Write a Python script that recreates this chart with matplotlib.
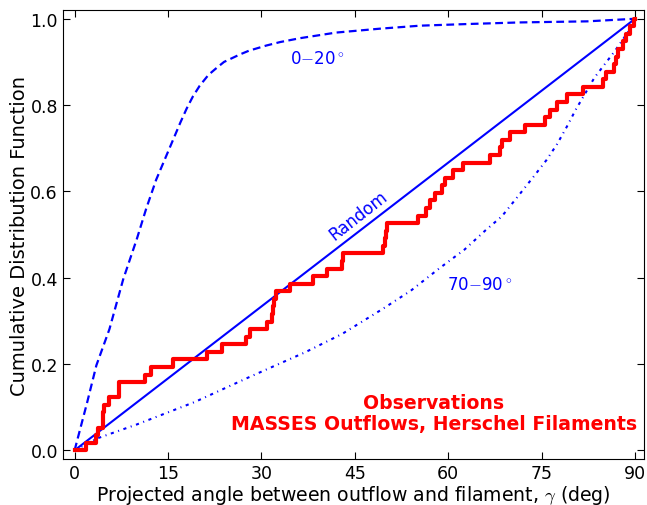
import numpy as np
import matplotlib
matplotlib.use('Agg')
import matplotlib.pyplot as plt

plt.rcParams['mathtext.fontset'] = 'cm'

angles = [1.9, 3.5, 3.8, 4.55, 4.6, 4.8, 5.6, 7.2, 7.2, 11.25,
          12.3, 15.8, 21.3, 23.6, 27.5, 28.1, 30.9, 31.7, 31.8, 32.0,
          32.4, 34.6, 38.3, 40.5, 43.0, 43.1, 49.6, 49.8, 50.0, 50.2,
          55.2, 56.5, 57.0, 57.9, 58.95, 59.5, 60.8, 62.4, 66.7, 68.3,
          68.6, 69.9, 72.3, 75.6, 76.4, 77.4, 79.0, 81.6, 84.9, 85.4,
          86.6, 86.9, 87.3, 88.0, 88.6, 89.2, 89.8]

# model curves
x_020 = [0, 2, 3.5, 5.6, 7.8, 10, 11.5, 13.1, 15.8, 17, 18.0, 19, 20.1,
         21.5, 22.8, 24, 26.5, 28, 30.8, 33, 36.2, 42, 49, 55.5, 63.5,
         71.5, 82.3, 90]
y_020 = [0, 0.11, 0.197, 0.281, 0.396, 0.49, 0.56, 0.627, 0.719, 0.76,
         0.792, 0.82, 0.845, 0.87, 0.886, 0.9, 0.917, 0.926, 0.938, 0.946,
         0.955, 0.968, 0.977, 0.984, 0.988, 0.9915, 0.994, 1.0]

x_7090 = [0, 3.7, 10, 19.3, 28.1, 37, 43, 49.4, 54, 58.6, 62.6, 66, 68.6, 71,
          73.7, 75.8, 77.5, 79.05, 80.5, 83.5, 86.8, 89, 90]
y_7090 = [0, 0.028, 0.06, 0.112, 0.17, 0.227, 0.27, 0.327, 0.37, 0.422, 0.465,
          0.51, 0.542, 0.585, 0.634, 0.673, 0.71, 0.75, 0.79, 0.864, 0.926,
          0.972, 1.0]

x_rand = [0, 90]
y_rand = [0, 1]

fig = plt.figure(figsize=(6.47, 5.06), dpi=100)
ax = fig.add_axes([0.097, 0.091, 0.898, 0.887])

# ECDF
a = np.sort(angles)
n = len(a)
xs = np.concatenate([[0], a, [90]])
ys = np.concatenate([[0], np.arange(1, n + 1) / n, [1]])

ax.plot(x_020, y_020, color='blue', ls='--', lw=1.6, dashes=(3.5, 2))
ax.plot(x_7090, y_7090, color='blue', lw=1.5, dashes=(1.5, 2.2, 0.5, 2.2))
ax.plot(x_rand, y_rand, color='blue', lw=1.5)
ax.plot(xs, ys, color='red', lw=3, drawstyle='steps-post')

ax.text(45.5, 0.545, 'Random', color='blue', fontsize=12, rotation=38,
        ha='center', va='center')
ax.text(39, 0.91, '0$-$20$^\\circ$', color='blue', fontsize=12,
        ha='center', va='center')
ax.text(65, 0.385, '70$-$90$^\\circ$', color='blue', fontsize=12,
        ha='center', va='center')
ax.text(90.3, 0.086, 'Observations\nMASSES Outflows, Herschel Filaments',
        color='red', fontsize=13.6, fontweight='bold', ha='right',
        va='center', multialignment='center', linespacing=1.1)

ax.set_xlim(-1.9, 91.4)
ax.set_ylim(-0.02, 1.02)
ax.set_xticks(np.arange(0, 91, 15))
ax.set_yticks(np.arange(0, 1.01, 0.2))
ax.set_yticklabels(['%.1f' % v for v in np.arange(0, 1.01, 0.2)])
ax.tick_params(direction='in', top=True, right=True, labelsize=12.5, length=5)
ax.set_xlabel('Projected angle between outflow and filament, $\\gamma$ (deg)',
              fontsize=13.6, labelpad=1)
ax.set_ylabel('Cumulative Distribution Function', fontsize=14, labelpad=1)

fig.savefig('out.png', dpi=100)
